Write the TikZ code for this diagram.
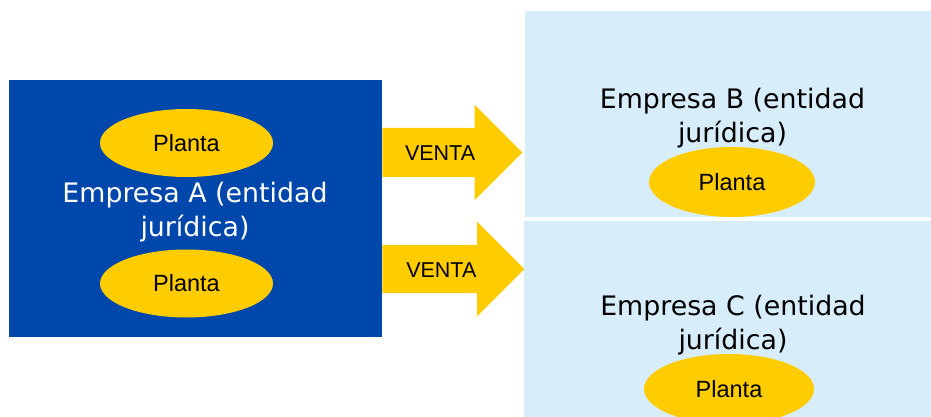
\documentclass[tikz,border=0pt]{standalone}
\usepackage{fontspec}
\setmainfont{DejaVu Sans}
\newfontfamily\arialfont{Liberation Sans}
\usetikzlibrary{positioning,shapes.geometric,shapes.arrows}
\definecolor{empblue}{RGB}{0,71,171}
\definecolor{emplight}{RGB}{215,237,249}
\definecolor{plantyellow}{RGB}{255,204,0}

\begin{document}
\begin{tikzpicture}[x=1pt,y=-1pt,
  every node/.style={font=\fontsize{26.8}{34}\selectfont},
  empresa/.style={rectangle,inner sep=0pt,align=center},
  planta/.style={ellipse,fill=plantyellow,inner sep=0pt,
                 font=\arialfont\fontsize{23.5}{26}\selectfont},
  venta/.style={single arrow,fill=plantyellow,anchor=tail,
                single arrow head extend=23pt,inner xsep=0pt,inner ysep=16.5pt,
                text height=16pt,text depth=0pt,
                font=\arialfont\fontsize{21.5}{24}\selectfont}
]
  \useasboundingbox (0,0) rectangle (931,417);
  % Empresa A
  \node[empresa,fill=empblue,minimum width=373pt,minimum height=257pt] (empA) at (195.5,208.5) {};
  \node[empresa,text=white] (txtA) at (195,212) {Empresa A (entidad\\jurídica)};
  \node[planta,minimum width=173pt,minimum height=68pt] (plA1) at (186.5,143) {Planta};
  \node[planta,minimum width=173pt,minimum height=68pt] (plA2) at (186.5,283.5) {Planta};
  % Empresa B
  \node[empresa,fill=emplight,minimum width=406pt,minimum height=206pt] (empB) at (728,114) {};
  \node[empresa] (txtB) at (732.5,118) {Empresa B (entidad\\jurídica)};
  \node[planta,minimum width=166pt,minimum height=70pt] (plB) at (732,182) {Planta};
  % Empresa C
  \node[empresa,fill=emplight,minimum width=407pt,minimum height=197pt] (empC) at (727.5,319.5) {};
  \node[empresa] (txtC) at (733,325.5) {Empresa C (entidad\\jurídica)};
  \node[planta,minimum width=170pt,minimum height=70pt] (plC) at (729,389) {Planta};
  % ventas
  \node[venta,minimum height=140pt] (vtaB) at (empA.east |- 0,152.5) {VENTA};
  \node[venta,minimum height=142pt,inner ysep=16pt] (vtaC) at (empA.east |- 0,269) {VENTA};
\end{tikzpicture}
\end{document}
